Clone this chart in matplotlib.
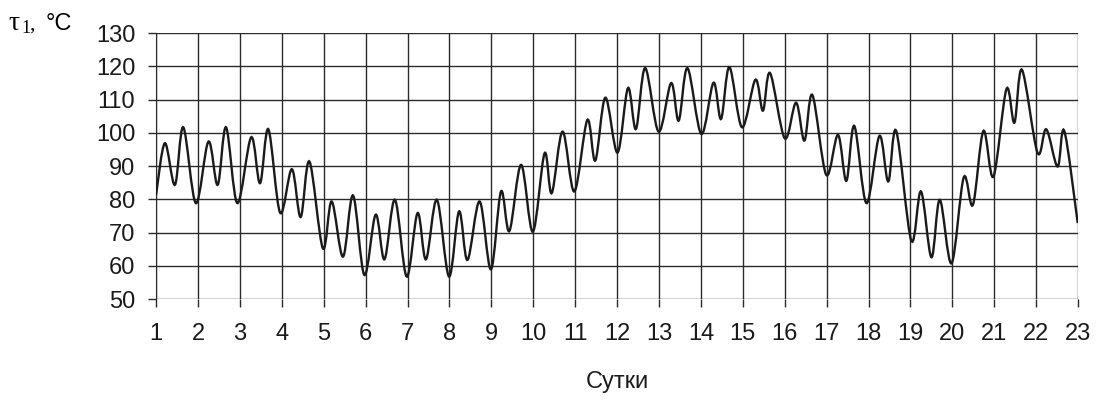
import numpy as np
import matplotlib
matplotlib.use("Agg")
import matplotlib.pyplot as plt
from matplotlib.path import Path
from matplotlib.patches import PathPatch

plt.rcParams['font.family'] = ['Liberation Sans', 'DejaVu Sans']

# day (fractional) and temperature tau1 (peaks and troughs)
days = [1.00, 1.21, 1.45, 1.65, 1.95, 2.25, 2.47, 2.67, 2.94, 3.27, 3.48, 3.68,
        3.96, 4.24, 4.45, 4.66, 4.98, 5.19, 5.46, 5.70, 5.97, 6.24, 6.45, 6.70,
        6.98, 7.24, 7.44, 7.70, 7.99, 8.23, 8.43, 8.72, 8.99, 9.23, 9.43, 9.71,
        9.99, 10.27, 10.44, 10.70, 10.98, 11.29, 11.48, 11.72, 12.01, 12.26, 12.45, 12.67,
        12.99, 13.29, 13.47, 13.68, 14.01, 14.30, 14.48, 14.68, 14.98, 15.30, 15.48, 15.65,
        16.00, 16.27, 16.47, 16.66, 16.99, 17.27, 17.47, 17.66, 17.95, 18.26, 18.47, 18.66,
        19.02, 19.25, 19.50, 19.70, 19.98, 20.27, 20.49, 20.74, 20.98, 21.29, 21.48, 21.66,
        22.03, 22.24, 22.51, 22.67, 22.99]
tau1 = [81.4, 96.9, 84.4, 101.7, 78.9, 97.4, 84.4, 101.7, 78.9, 98.7, 84.9, 101.1,
        76.0, 89.1, 74.7, 91.4, 65.3, 79.4, 62.8, 81.2, 57.3, 75.4, 62.0, 79.9,
        56.8, 75.9, 62.0, 79.9, 56.8, 76.4, 61.8, 79.4, 59.0, 82.4, 70.5, 90.4,
        70.3, 93.9, 81.9, 100.4, 82.4, 103.9, 91.7, 110.6, 94.1, 113.5, 101.2, 119.5,
        100.4, 115.0, 103.7, 119.5, 99.7, 115.1, 104.2, 119.8, 101.7, 116.0, 106.7, 118.0,
        98.4, 109.1, 97.7, 111.4, 87.4, 99.4, 85.6, 102.1, 78.9, 99.1, 85.4, 100.6,
        67.6, 82.4, 62.6, 79.9, 60.8, 86.6, 78.4, 100.6, 86.9, 113.2, 103.1, 119.0,
        94.1, 101.1, 89.9, 100.6, 72.9]

x_ticks = list(range(1, 24))
y_ticks = list(range(50, 131, 10))

fig = plt.figure(figsize=(10.99, 4.0), dpi=100)
ax = fig.add_axes([0.142, 0.252, 0.839, 0.665])

# smoothed line (like a spreadsheet "smoothed line"): Catmull-Rom -> cubic Bezier
pts = np.column_stack([days, tau1])
verts = [pts[0]]
codes = [Path.MOVETO]
for i in range(len(pts) - 1):
    p0 = pts[i - 1] if i > 0 else pts[i]
    p1, p2 = pts[i], pts[i + 1]
    p3 = pts[i + 2] if i + 2 < len(pts) else pts[i + 1]
    verts += [p1 + (p2 - p0) / 6, p2 - (p3 - p1) / 6, p2]
    codes += [Path.CURVE4] * 3
ax.add_patch(PathPatch(Path(verts, codes), fill=False, ec='#1a1a1a', lw=1.7, zorder=3))

ax.set_xlim(1, 23)
ax.set_ylim(50, 130)
ax.set_xticks(x_ticks)
ax.set_yticks(y_ticks)
ax.tick_params(labelsize=17, length=6, width=1, color='#2a2a2a', labelcolor='#1a1a1a')
ax.tick_params(axis='y', pad=9)
ax.tick_params(axis='x', pad=11)
ax.grid(True, color='#2a2a2a', lw=1)
for s in ['top', 'right', 'bottom']:
    ax.spines[s].set_visible(False)
ax.spines['left'].set_color('#2a2a2a')
ax.set_xlabel("Сутки", fontsize=17, labelpad=19, color='#1a1a1a')

fig.text(8 / 1099, 0.925, "τ", fontsize=20, family='Liberation Serif', va='baseline')
fig.text(21 / 1099, 0.918, "1", fontsize=13, family='Liberation Serif', va='baseline')
fig.text(29 / 1099, 0.925, ",", fontsize=16, family='Liberation Serif', va='baseline')
fig.text(46 / 1099, 0.925, "°C", fontsize=17, va='baseline')

fig.savefig("out.png", dpi=100)
